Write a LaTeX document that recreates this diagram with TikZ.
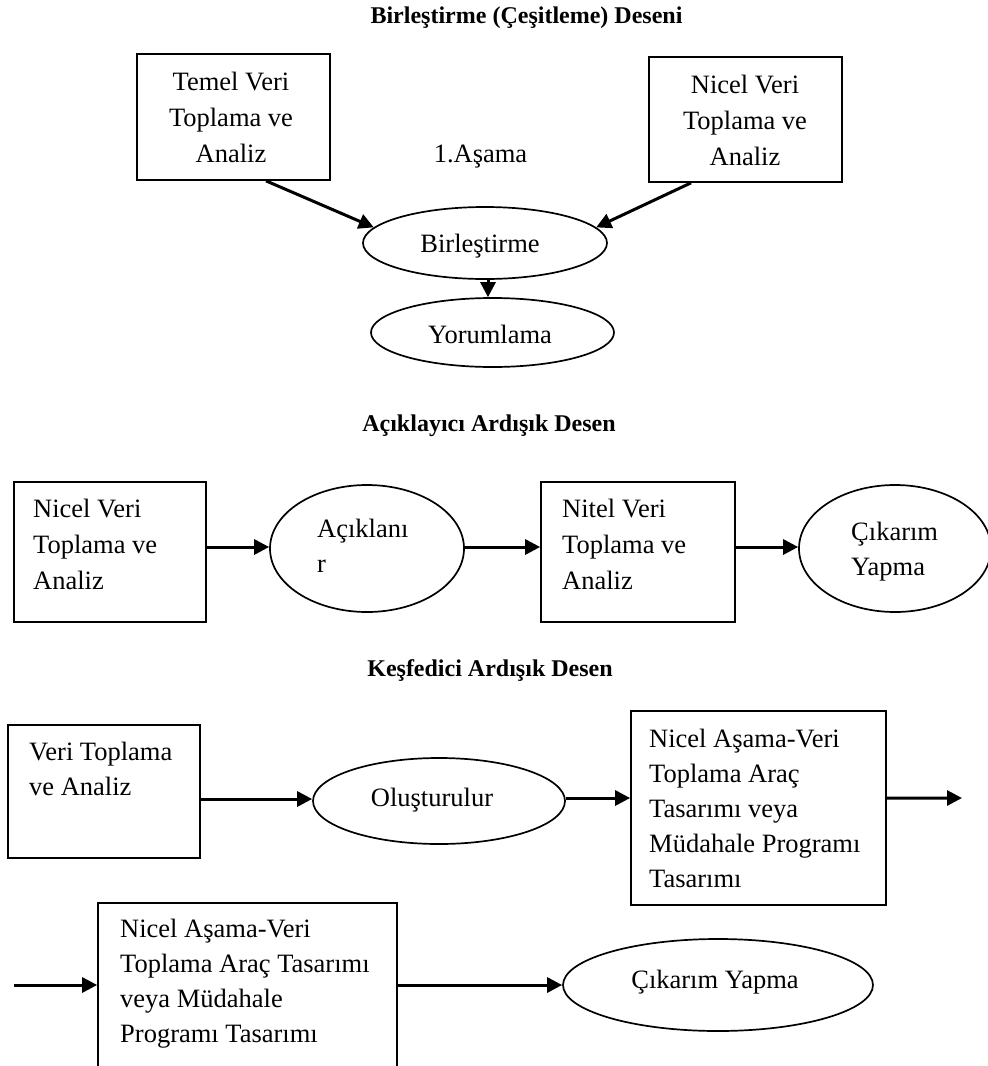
\documentclass[tikz,border=0pt]{standalone}
\usepackage{fontspec}
\setmainfont{Liberation Serif}
\usetikzlibrary{shapes.geometric,arrows.meta,calc}
\begin{document}
\begin{tikzpicture}[x=1bp,y=-1bp,
  shp/.style={draw, line width=1.7bp, inner sep=0pt},
  boxwh/.style 2 args={shp, rectangle, minimum width=#1, minimum height=#2},
  ellwh/.style 2 args={shp, ellipse, minimum width=#1, minimum height=#2},
  txt/.style={inner sep=0pt, font=\fontsize{26.5bp}{35bp}\selectfont},
  ttl/.style={inner sep=0pt, font=\fontsize{24bp}{28bp}\selectfont\bfseries},
  arr/.style={line width=3bp, -{Triangle[length=15bp,width=15bp]}},
]
\useasboundingbox (0,0) rectangle (988,1066);

% ---- shapes ----
\node[boxwh={193bp}{126bp}] (box1) at (233.5,117) {};
\node[boxwh={193bp}{125bp}] (box2) at (745.5,119.5) {};
\node[ellwh={244bp}{72bp}] (birl) at (485,243) {};
\node[ellwh={243bp}{69bp}] (yorum) at (492.5,332.5) {};

\node[boxwh={192bp}{140bp}] (boxA) at (110,552) {};
\node[ellwh={194bp}{127bp}] (circA) at (367,548.5) {};
\node[boxwh={194bp}{140bp}] (boxB) at (638,552) {};
\node[ellwh={192bp}{127bp}] (circB) at (895,548.5) {};

\node[boxwh={192bp}{133bp}] (boxC) at (104,791.5) {};
\node[ellwh={252bp}{86bp}] (olus) at (439,801) {};
\node[boxwh={255bp}{194bp}] (boxD) at (758.5,808) {};
\node[boxwh={299bp}{187bp}] (boxE) at (247.5,996.5) {};
\node[ellwh={310bp}{92bp}] (cik) at (718,985) {};

\coordinate (outD) at (962,798);
\coordinate (inE) at (14,985);

% ---- connectors ----
\draw[arr] ([xshift=32.5bp]box1.south) -- (birl.172);
\draw[arr] ([xshift=-54.5bp]box2.south) -- (birl.8);
\draw[arr] ([xshift=3bp]birl.south) -- ([xshift=3bp]birl.south |- yorum.north);

\draw[arr] ([yshift=5bp]boxA.east) -- ([yshift=5bp]boxA.east -| circA.west);
\draw[arr] ([yshift=1.5bp]circA.east) -- ([yshift=1.5bp]circA.east -| boxB.west);
\draw[arr] ([yshift=5bp]boxB.east) -- ([yshift=5bp]boxB.east -| circB.west);

\draw[arr] ([yshift=-7.5bp]boxC.east) -- ([yshift=-7.5bp]boxC.east -| olus.west);
\draw[arr] ([yshift=3bp]olus.east) -- ([yshift=3bp]olus.east -| boxD.west);
\draw[arr] ([yshift=10bp]boxD.east) -- (outD);
\draw[arr] (inE) -- (inE -| boxE.west);
\draw[arr] (boxE.east |- cik.west) -- (cik.west);

% ---- titles ----
\node[ttl, anchor=base] (t1) at (526.5,23) {Birleştirme (Çeşitleme) Deseni};
\node[ttl, anchor=base] (t2) at (489,431) {Açıklayıcı Ardışık Desen};
\node[ttl, anchor=base] (t3) at (490,676) {Keşfedici Ardışık Desen};

% ---- texts ----
\foreach \s [count=\i from 0] in {Temel Veri, Toplama ve, Analiz}
  \node[txt, anchor=base] (b1l\i) at (231,{90+36*\i}) {\s};
\foreach \s [count=\i from 0] in {Nicel Veri, Toplama ve, Analiz}
  \node[txt, anchor=base] (b2l\i) at (745,{93+36*\i}) {\s};
\node[txt, anchor=base] (asama) at (480.5,162) {1.Aşama};
\node[txt, anchor=base] (birlt) at (480,252) {Birleştirme};
\node[txt, anchor=base] (yorumt) at (490,343) {Yorumlama};

\foreach \s [count=\i from 0] in {Nicel Veri, Toplama ve, Analiz}
  \node[txt, anchor=base west] (bAl\i) at (33,{517+36*\i}) {\s};
\foreach \s [count=\i from 0] in {Açıklanı, r}
  \node[txt, anchor=base west] (cAl\i) at (317,{537+35*\i}) {\s};
\foreach \s [count=\i from 0] in {Nitel Veri, Toplama ve, Analiz}
  \node[txt, anchor=base west] (bBl\i) at (562,{517+36*\i}) {\s};
\foreach \s [count=\i from 0] in {Çıkarım, Yapma}
  \node[txt, anchor=base west] (cBl\i) at (851,{540+35*\i}) {\s};

\foreach \s [count=\i from 0] in {Veri Toplama, ve Analiz}
  \node[txt, anchor=base west] (bCl\i) at (29,{760+35*\i}) {\s};
\node[txt, anchor=base] (olust) at (432,806) {Oluşturulur};
\foreach \s [count=\i from 0] in {Nicel Aşama-Veri, Toplama Araç, Tasarımı veya, Müdahale Programı, Tasarımı}
  \node[txt, anchor=base west] (bDl\i) at (649,{747+35*\i}) {\s};
\foreach \s [count=\i from 0] in {Nicel Aşama-Veri, Toplama Araç Tasarımı, veya Müdahale, Programı Tasarımı}
  \node[txt, anchor=base west] (bEl\i) at (120,{937+35*\i}) {\s};
\node[txt, anchor=base] (cikt) at (715,988) {Çıkarım Yapma};
\end{tikzpicture}
\end{document}
